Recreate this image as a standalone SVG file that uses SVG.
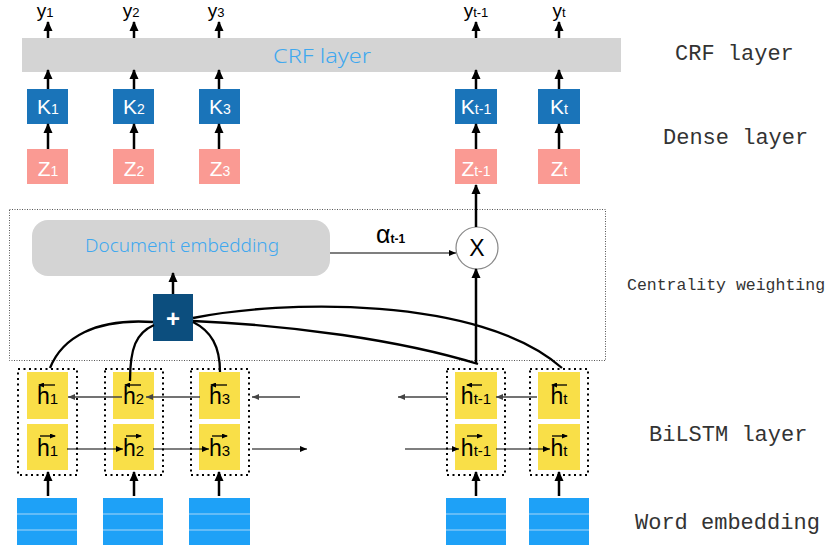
<svg xmlns="http://www.w3.org/2000/svg" width="831" height="548" viewBox="0 0 831 548">
<defs>
<marker id="ah" markerUnits="userSpaceOnUse" markerWidth="10" markerHeight="10" refX="9" refY="5" orient="auto">
<path d="M0,0.5 L10,5 L0,9.5 z" fill="#000"/>
</marker>
<marker id="ahs" markerUnits="userSpaceOnUse" markerWidth="8" markerHeight="7" refX="7" refY="3.5" orient="auto">
<path d="M0,0.5 L7,3.5 L0,6.5 z" fill="#000"/>
</marker>
<marker id="ahg" markerUnits="userSpaceOnUse" markerWidth="8" markerHeight="7" refX="7" refY="3.5" orient="auto">
<path d="M0,0.5 L7,3.5 L0,6.5 z" fill="#444"/>
</marker>
<marker id="aht" markerUnits="userSpaceOnUse" markerWidth="6" markerHeight="5" refX="5" refY="2.5" orient="auto">
<path d="M0,0 L6,2.5 L0,5 z" fill="#000"/>
</marker>
</defs>
<style>
.thick{stroke:#000;stroke-width:2.5;fill:none;marker-end:url(#ah)}
.thin{stroke:#000;stroke-width:1.2;fill:none;marker-end:url(#ahs)}
.grey{stroke:#444;stroke-width:1.5;fill:none;marker-end:url(#ahg)}
.curve{stroke:#000;stroke-width:2.3;fill:none}
.harrow{stroke:#000;stroke-width:1.3;fill:none;marker-end:url(#aht)}
.kbox{fill:#1a74b9}
.zbox{fill:#fa9a93}
.ybox{fill:#f9df48}
.wbox{fill:#1ea1f7}
.wline{stroke:#a9d6f7;stroke-width:1}
.dotbox{fill:none;stroke:#000;stroke-width:2;stroke-dasharray:2 3.5}
.lbl{font-family:"Liberation Sans",Arial,sans-serif;fill:#fff;text-anchor:middle}
.big{font-size:21px}
.sub{font-size:14px}
.hl{font-family:"Liberation Sans",Arial,sans-serif;fill:#000;text-anchor:middle;font-size:23px}
.hsub{font-size:15px}
.side{font-family:"Liberation Mono","Courier New",monospace;fill:#333;font-size:22px}
.sidesm{font-family:"Liberation Mono","Courier New",monospace;fill:#333;font-size:16.5px}
.fancy{font-family:"Noto Sans","Open Sans",sans-serif;font-weight:300;fill:#3fa8ef}
</style>

<!-- CRF layer -->
<g id="crf">
<rect x="22" y="38" width="599" height="34" fill="#d4d4d4"/>
<text class="fancy" x="273" y="63" font-size="20" textLength="98" lengthAdjust="spacingAndGlyphs">CRF layer</text>
</g>

<!-- outputs y -->
<g id="outputs" font-family="Liberation Sans, Arial, sans-serif" fill="#000" text-anchor="middle">
<text x="45" y="17" font-size="19">y<tspan font-size="13">1</tspan></text>
<text x="131" y="17" font-size="19">y<tspan font-size="13">2</tspan></text>
<text x="216" y="17" font-size="19">y<tspan font-size="13">3</tspan></text>
<text x="476" y="17" font-size="19">y<tspan font-size="13">t-1</tspan></text>
<text x="559" y="17" font-size="19">y<tspan font-size="13">t</tspan></text>
</g>

<!-- Dense K -->
<g id="k1"><rect class="kbox" x="27" y="89" width="41" height="35"/><text class="lbl big" x="48" y="114">K<tspan class="sub">1</tspan></text></g>
<g id="k2"><rect class="kbox" x="113" y="89" width="41" height="35"/><text class="lbl big" x="134" y="114">K<tspan class="sub">2</tspan></text></g>
<g id="k3"><rect class="kbox" x="199" y="89" width="41" height="35"/><text class="lbl big" x="220" y="114">K<tspan class="sub">3</tspan></text></g>
<g id="kt1"><rect class="kbox" x="455" y="89" width="42" height="35"/><text class="lbl big" x="476" y="114">K<tspan class="sub">t-1</tspan></text></g>
<g id="kt"><rect class="kbox" x="538" y="89" width="42" height="35"/><text class="lbl big" x="559" y="114">K<tspan class="sub">t</tspan></text></g>

<!-- Z -->
<g id="z1"><rect class="zbox" x="27" y="149" width="41" height="35"/><text class="lbl big" x="48" y="176">Z<tspan class="sub">1</tspan></text></g>
<g id="z2"><rect class="zbox" x="113" y="149" width="41" height="35"/><text class="lbl big" x="134" y="176">Z<tspan class="sub">2</tspan></text></g>
<g id="z3"><rect class="zbox" x="199" y="149" width="41" height="35"/><text class="lbl big" x="220" y="176">Z<tspan class="sub">3</tspan></text></g>
<g id="zt1"><rect class="zbox" x="455" y="149" width="42" height="35"/><text class="lbl big" x="476" y="176">Z<tspan class="sub">t-1</tspan></text></g>
<g id="zt"><rect class="zbox" x="538" y="149" width="42" height="35"/><text class="lbl big" x="559" y="176">Z<tspan class="sub">t</tspan></text></g>

<!-- Centrality weighting box -->
<g id="centrality">
<rect x="9.5" y="209.5" width="596" height="151" fill="none" stroke="#555" stroke-width="1" stroke-dasharray="1 1.5"/>
</g>

<g id="docemb">
<rect x="32" y="220" width="298" height="56" rx="16" fill="#d4d4d4"/>
<text class="fancy" x="85" y="252" font-size="19" textLength="194" lengthAdjust="spacingAndGlyphs">Document embedding</text>
</g>

<g id="mult">
<circle cx="477" cy="248" r="21" fill="#fff" stroke="#888" stroke-width="1.2"/>
<text x="477" y="256" font-family="Liberation Sans, Arial, sans-serif" font-size="23" text-anchor="middle" fill="#000">X</text>
</g>

<g id="plus">
<rect x="153" y="294" width="40" height="47" fill="#0c4e7e"/>
<text x="173" y="327" font-family="Liberation Sans, Arial, sans-serif" font-size="24" font-weight="bold" text-anchor="middle" fill="#fff">+</text>
</g>

<text x="376" y="243" font-family="Liberation Sans, Arial, sans-serif" font-size="25" fill="#000">α<tspan font-size="12" font-weight="bold">t-1</tspan></text>

<!-- BiLSTM -->
<g id="bil1">
<rect class="dotbox" x="18" y="369" width="59" height="106"/>
<rect class="ybox" x="27" y="372" width="41" height="47"/>
<rect class="ybox" x="27" y="424" width="41" height="46"/>
<text class="hl" x="47.5" y="404">h<tspan class="hsub">1</tspan></text>
<text class="hl" x="47.5" y="456">h<tspan class="hsub">1</tspan></text>
</g>
<g id="bil2">
<rect class="dotbox" x="105" y="369" width="58" height="106"/>
<rect class="ybox" x="113" y="372" width="41" height="47"/>
<rect class="ybox" x="113" y="424" width="41" height="46"/>
<text class="hl" x="133.5" y="404">h<tspan class="hsub">2</tspan></text>
<text class="hl" x="133.5" y="456">h<tspan class="hsub">2</tspan></text>
</g>
<g id="bil3">
<rect class="dotbox" x="191" y="369" width="58" height="106"/>
<rect class="ybox" x="199" y="372" width="41" height="47"/>
<rect class="ybox" x="199" y="424" width="41" height="46"/>
<text class="hl" x="219.5" y="404">h<tspan class="hsub">3</tspan></text>
<text class="hl" x="219.5" y="456">h<tspan class="hsub">3</tspan></text>
</g>
<g id="bilt1">
<rect class="dotbox" x="447" y="369" width="58" height="106"/>
<rect class="ybox" x="455" y="372" width="42" height="47"/>
<rect class="ybox" x="455" y="424" width="42" height="46"/>
<text class="hl" x="476" y="404">h<tspan class="hsub">t-1</tspan></text>
<text class="hl" x="476" y="456">h<tspan class="hsub">t-1</tspan></text>
</g>
<g id="bilt">
<rect class="dotbox" x="530" y="369" width="58" height="106"/>
<rect class="ybox" x="538" y="372" width="42" height="47"/>
<rect class="ybox" x="538" y="424" width="42" height="46"/>
<text class="hl" x="559" y="404">h<tspan class="hsub">t</tspan></text>
<text class="hl" x="559" y="456">h<tspan class="hsub">t</tspan></text>
</g>

<!-- Word embeddings -->
<g id="we1"><rect class="wbox" x="17" y="498" width="60" height="47"/><line class="wline" x1="17" y1="514" x2="77" y2="514"/><line class="wline" x1="17" y1="530" x2="77" y2="530"/></g>
<g id="we2"><rect class="wbox" x="103" y="498" width="60" height="47"/><line class="wline" x1="103" y1="514" x2="163" y2="514"/><line class="wline" x1="103" y1="530" x2="163" y2="530"/></g>
<g id="we3"><rect class="wbox" x="189" y="498" width="61" height="47"/><line class="wline" x1="189" y1="514" x2="250" y2="514"/><line class="wline" x1="189" y1="530" x2="250" y2="530"/></g>
<g id="wet1"><rect class="wbox" x="446" y="498" width="60" height="47"/><line class="wline" x1="446" y1="514" x2="506" y2="514"/><line class="wline" x1="446" y1="530" x2="506" y2="530"/></g>
<g id="wet"><rect class="wbox" x="529" y="498" width="60" height="47"/><line class="wline" x1="529" y1="514" x2="589" y2="514"/><line class="wline" x1="529" y1="530" x2="589" y2="530"/></g>

<!-- side labels -->
<g id="sidelabels">
<text class="side" x="675" y="60">CRF layer</text>
<text class="side" x="663" y="144">Dense layer</text>
<text class="sidesm" x="627" y="290">Centrality weighting</text>
<text class="side" x="649" y="441">BiLSTM layer</text>
<text class="side" x="635" y="529">Word embedding</text>
</g>

<!-- connectors -->
<g id="connectors">
<line class="thick" x1="48" y1="38" x2="48" y2="22"/>
<line class="thick" x1="134" y1="38" x2="134" y2="22"/>
<line class="thick" x1="219" y1="38" x2="219" y2="22"/>
<line class="thick" x1="476" y1="38" x2="476" y2="22"/>
<line class="thick" x1="559" y1="38" x2="559" y2="22"/>
<line class="thick" x1="48" y1="89" x2="48" y2="70"/>
<line class="thick" x1="134" y1="89" x2="134" y2="70"/>
<line class="thick" x1="219" y1="89" x2="219" y2="70"/>
<line class="thick" x1="476" y1="89" x2="476" y2="70"/>
<line class="thick" x1="559" y1="89" x2="559" y2="70"/>
<line class="thick" x1="48" y1="149" x2="48" y2="124"/>
<line class="thick" x1="134" y1="149" x2="134" y2="124"/>
<line class="thick" x1="219" y1="149" x2="219" y2="124"/>
<line class="thick" x1="476" y1="149" x2="476" y2="124"/>
<line class="thick" x1="559" y1="149" x2="559" y2="124"/>
<line class="thick" x1="476" y1="227" x2="476" y2="185"/>
<line class="thick" x1="476" y1="364" x2="476" y2="269"/>
<line class="thin" x1="330" y1="253" x2="456" y2="253"/>
<line class="thick" x1="173" y1="294" x2="173" y2="273"/>
<path class="curve" d="M153,322 C95,318 62,338 50,368"/>
<path class="curve" d="M154,325 C136,333 130,348 130,381"/>
<path class="curve" d="M193,322 C211,331 220,346 220,372"/>
<path class="curve" d="M193,318 C280,300 480,295 562,368"/>
<path class="curve" d="M193,321 C290,325 400,340 478,364"/>
<line class="grey" x1="122" y1="397" x2="68" y2="397"/>
<line class="grey" x1="200" y1="397" x2="146" y2="397"/>
<line class="grey" x1="300" y1="397" x2="252" y2="397"/>
<line class="grey" x1="447" y1="397" x2="398" y2="397"/>
<line class="grey" x1="537" y1="397" x2="496" y2="397"/>
<line class="thin" x1="67" y1="449" x2="123" y2="449"/>
<line class="thin" x1="153" y1="449" x2="209" y2="449"/>
<line class="thin" x1="252" y1="449" x2="307" y2="449"/>
<line class="thin" x1="405" y1="449" x2="459" y2="449"/>
<line class="thin" x1="496" y1="449" x2="550" y2="449"/>
<line class="thick" x1="48" y1="496" x2="48" y2="472"/>
<line class="thick" x1="134" y1="496" x2="134" y2="472"/>
<line class="thick" x1="219" y1="496" x2="219" y2="472"/>
<line class="thick" x1="476" y1="496" x2="476" y2="472"/>
<line class="thick" x1="559" y1="496" x2="559" y2="472"/>
<line class="harrow" x1="55" y1="385" x2="39" y2="385"/>
<line class="harrow" x1="40" y1="436" x2="55" y2="436"/>
<line class="harrow" x1="141" y1="385" x2="125" y2="385"/>
<line class="harrow" x1="126" y1="436" x2="141" y2="436"/>
<line class="harrow" x1="227" y1="385" x2="211" y2="385"/>
<line class="harrow" x1="212" y1="436" x2="227" y2="436"/>
<line class="harrow" x1="482" y1="385" x2="467" y2="385"/>
<line class="harrow" x1="467" y1="436" x2="482" y2="436"/>
<line class="harrow" x1="567" y1="385" x2="552" y2="385"/>
<line class="harrow" x1="552" y1="436" x2="567" y2="436"/>
</g>
</svg>
